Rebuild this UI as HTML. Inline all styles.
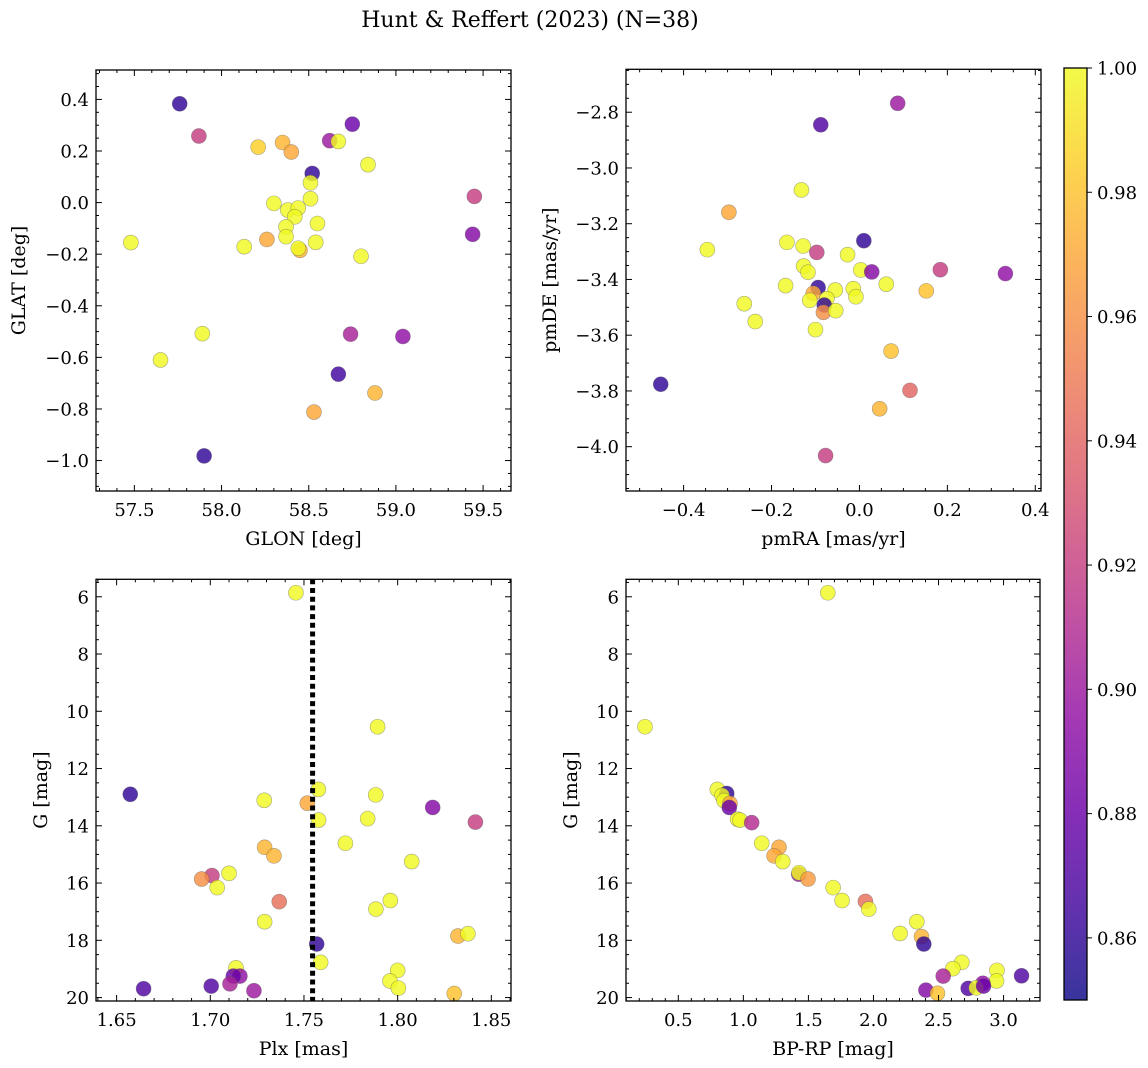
<!DOCTYPE html>
<html><head><meta charset="utf-8"><style>
html,body{margin:0;padding:0;background:#fff;}
svg{display:block;font-family:"DejaVu Serif","Liberation Serif",serif;}
</style></head><body>
<svg id="fig" width="1148" height="1068" viewBox="0 0 1148 1068" xmlns="http://www.w3.org/2000/svg">
<rect width="1148" height="1068" fill="#fff"/>
<text x="530" y="27" font-size="22" text-anchor="middle">Hunt &amp; Reffert (2023) (N=38)</text>
<g id="cb"></g>
</svg>
<script>
// Panel 1: GLON vs GLAT
const glon=[57.76,57.87,58.75,58.21,58.35,58.40,58.62,58.67,58.52,58.51,58.84,58.51,58.30,58.38,58.44,58.42,58.37,58.37,58.55,58.54,57.48,58.13,58.26,58.45,58.44,58.80,59.45,59.44,57.89,57.65,58.74,59.04,58.67,58.88,58.53,57.90];
const glat=[0.383,0.258,0.304,0.215,0.233,0.196,0.240,0.237,0.113,0.077,0.147,0.015,-0.003,-0.029,-0.021,-0.055,-0.094,-0.132,-0.081,-0.154,-0.155,-0.171,-0.143,-0.185,-0.177,-0.208,0.024,-0.123,-0.508,-0.610,-0.510,-0.519,-0.665,-0.738,-0.812,-0.982];
const prob1=[0.86,0.92,0.88,0.985,0.975,0.97,0.90,1,0.86,1,1,1,1,1,1,1,1,1,1,1,1,1,0.97,0.975,1,1,0.92,0.89,1,1,0.905,0.895,0.865,0.975,0.97,0.86];
// Panel 2: pmRA vs pmDE
const pmra=[0.087,-0.088,-0.132,-0.297,-0.346,-0.165,-0.128,-0.097,-0.027,0.010,-0.127,-0.117,0.003,0.028,0.184,0.332,-0.168,-0.094,-0.105,-0.055,-0.014,0.061,0.152,-0.008,-0.074,-0.113,-0.262,-0.080,-0.082,-0.054,-0.237,-0.100,0.072,-0.452,0.115,0.046,-0.077];
const pmde=[-2.768,-2.845,-3.079,-3.159,-3.293,-3.267,-3.280,-3.303,-3.311,-3.261,-3.352,-3.374,-3.366,-3.373,-3.365,-3.379,-3.422,-3.429,-3.450,-3.438,-3.433,-3.417,-3.441,-3.462,-3.469,-3.475,-3.487,-3.492,-3.518,-3.512,-3.551,-3.580,-3.657,-3.776,-3.798,-3.864,-4.032];
const prob2=[0.90,0.87,1,0.97,1,1,1,0.92,1,0.86,1,1,1,0.89,0.92,0.895,1,0.86,0.97,1,1,1,0.98,1,1,1,1,0.86,0.96,1,1,1,0.98,0.86,0.94,0.975,0.92];
// Panel 3: Plx vs G
const plx=[1.7457,1.7893,1.6573,1.7288,1.7518,1.7577,1.7883,1.8187,1.7578,1.7840,1.8415,1.7721,1.7290,1.7340,1.8075,1.7100,1.7009,1.6954,1.7037,1.7368,1.7961,1.7884,1.7290,1.8322,1.8375,1.7568,1.7589,1.7137,1.7158,1.7123,1.7105,1.8000,1.7959,1.8004,1.6644,1.7005,1.7233,1.8302];
const gmag3=[5.86,10.54,12.90,13.11,13.21,12.73,12.92,13.36,13.80,13.75,13.87,14.61,14.75,15.05,15.25,15.66,15.74,15.86,16.16,16.65,16.61,16.91,17.35,17.85,17.77,18.13,18.77,18.96,19.25,19.25,19.52,19.05,19.42,19.67,19.69,19.60,19.76,19.86];
const prob3=[1,1,0.86,1,0.97,1,1,0.89,1,1,0.92,1,0.975,0.975,1,1,0.92,0.96,1,0.945,1,1,1,0.975,1,0.86,1,1,0.895,0.88,0.905,1,1,1,0.87,0.87,0.9,0.98];
const plxMean=[1.7546];
// Panel 4: BP-RP vs G
const bprp=[1.649,0.244,0.800,0.872,0.836,0.851,0.897,0.892,0.956,0.974,1.064,1.141,1.274,1.236,1.303,1.426,1.428,1.497,1.690,1.759,1.938,1.964,2.333,2.205,2.369,2.387,2.679,2.610,2.536,2.949,2.946,3.138,2.841,2.403,2.492,2.728,2.790,2.846];
const gmag4=[5.86,10.54,12.73,12.87,12.94,13.12,13.22,13.36,13.77,13.80,13.89,14.61,14.75,15.05,15.25,15.69,15.64,15.86,16.16,16.61,16.64,16.91,17.35,17.76,17.87,18.13,18.77,18.99,19.25,19.05,19.42,19.24,19.50,19.74,19.85,19.68,19.66,19.60];
const prob4=[1,1,1,0.86,1,1,0.97,0.88,1,1,0.91,1,0.97,0.97,1,0.9,1,0.965,1,1,0.945,1,1,1,0.975,0.86,1,1,0.905,1,1,0.87,0.895,0.89,0.98,0.87,1,0.88];
const cbTicks=[0.86,0.88,0.90,0.92,0.94,0.96,0.98,1.00];

const NS="http://www.w3.org/2000/svg";
const svg=document.getElementById('fig');
const stops=["#0d0887","#41049d","#6a00a8","#8f0da4","#b12a90","#cc4778","#e16462","#f2844b","#fca636","#fcce25","#f0f921"];
function hx(h){return [1,3,5].map(i=>parseInt(h.substr(i,2),16));}
function plasma(t){t=Math.max(0,Math.min(1,t));const f=t*10,i=Math.min(9,Math.floor(f)),r=f-i;const a=hx(stops[i]),b=hx(stops[i+1]);return 'rgb('+a.map((v,k)=>Math.round(v+(b[k]-v)*r)).join(',')+')';}
const VMIN=0.85,VMAX=1.0;
const TF=18,LF=19;
function el(tag,attrs,parent){const e=document.createElementNS(NS,tag);for(const k in attrs)e.setAttribute(k,attrs[k]);(parent||svg).appendChild(e);return e;}
function fmt(v,d){const s=Math.abs(v).toFixed(d);return (v<-1e-9?'\u2212':'')+s;}

function panel(cfg){
  const g=el('g',{});
  
  
  const {L,R,T,B,x0,x1,y0,y1}=cfg;
  const sx=v=>L+(v-x0)/(x1-x0)*(R-L);
  const sy=v=>T+(v-y0)/(y1-y0)*(B-T);
  const pts=el('g',{},g);
  
  
  for(let i=0;i<cfg.xs.length;i++){
    const c=el('circle',{cx:sx(cfg.xs[i]),cy:sy(cfg.ys[i]),r:7.5,fill:plasma((cfg.cs[i]-VMIN)/(VMAX-VMIN)),'fill-opacity':0.82,stroke:'#555','stroke-opacity':0.5,'stroke-width':0.6},pts);
    
    
  }
  if(cfg.vline){
    const ln=el('line',{x1:sx(cfg.vline[0]),x2:sx(cfg.vline[0]),y1:T,y2:B,stroke:'#000','stroke-width':5,'stroke-dasharray':'5 3.7'},g);
    
    
  }
  const tk=el('g',{stroke:'#000','stroke-width':1},g);
  
  
  const eps=1e-9;
  const n0=Math.ceil((Math.min(x0,x1))/cfg.xmin-eps),n1=Math.floor(Math.max(x0,x1)/cfg.xmin+eps);
  for(let n=n0;n<=n1;n++){const v=n*cfg.xmin,x=sx(v);const maj=Math.abs(v/cfg.xmaj-Math.round(v/cfg.xmaj))<1e-6;const len=maj?6:3;
    el('line',{x1:x,x2:x,y1:B,y2:B-len},tk);el('line',{x1:x,x2:x,y1:T,y2:T+len},tk);
    if(maj){const t=el('text',{x:x,y:B+25,'font-size':TF,'text-anchor':'middle',stroke:'none',fill:'#000'},g);t.textContent=fmt(v,cfg.xd);}}
  const m0=Math.ceil(Math.min(y0,y1)/cfg.ymin-eps),m1=Math.floor(Math.max(y0,y1)/cfg.ymin+eps);
  for(let n=m0;n<=m1;n++){const v=n*cfg.ymin,y=sy(v);const maj=Math.abs(v/cfg.ymaj-Math.round(v/cfg.ymaj))<1e-6;const len=maj?6:3;
    el('line',{x1:L,x2:L+len,y1:y,y2:y},tk);el('line',{x1:R,x2:R-len,y1:y,y2:y},tk);
    if(maj){const t=el('text',{x:L-7,y:y+6.5,'font-size':TF,'text-anchor':'end',stroke:'none',fill:'#000'},g);t.textContent=fmt(v,cfg.yd);}}
  const fr=el('rect',{x:L,y:T,width:R-L,height:B-T,fill:'none',stroke:'#000','stroke-width':1.3},g);
  
  
  const xl=el('text',{x:(L+R)/2,y:B+54,'font-size':LF,'text-anchor':'middle'},g);xl.textContent=cfg.xlabel;
  
  
  const yl=el('text',{x:0,y:0,'font-size':LF,'text-anchor':'middle',transform:`translate(${cfg.ylx},${(T+B)/2}) rotate(-90)`},g);yl.textContent=cfg.ylabel;
  
  
}
panel({name:'glon-glat-panel',L:96,R:511,T:70,B:491,x0:57.28,x1:59.66,y0:0.514,y1:-1.118,xs:glon,ys:glat,cs:prob1,xmaj:0.5,xmin:0.1,ymaj:0.2,ymin:0.05,xd:1,yd:1,xlabel:'GLON [deg]',ylabel:'GLAT [deg]',ylx:25});
panel({name:'proper-motion-panel',L:626,R:1041,T:69.3,B:491,x0:-0.531,x1:0.413,y0:-2.646,y1:-4.159,xs:pmra,ys:pmde,cs:prob2,xmaj:0.2,xmin:0.05,ymaj:0.2,ymin:0.05,xd:1,yd:1,xlabel:'pmRA [mas/yr]',ylabel:'pmDE [mas/yr]',ylx:556});
panel({name:'parallax-magnitude-panel',L:96,R:511,T:579.3,B:1001,x0:1.639,x1:1.8605,y0:5.39,y1:20.12,xs:plx,ys:gmag3,cs:prob3,xmaj:0.05,xmin:0.01,ymaj:2,ymin:0.5,xd:2,yd:0,xlabel:'Plx [mas]',ylabel:'G [mag]',ylx:47,vline:plxMean});
panel({name:'color-magnitude-panel',L:626,R:1040,T:579.3,B:1001,x0:0.098,x1:3.28,y0:5.39,y1:20.12,xs:bprp,ys:gmag4,cs:prob4,xmaj:0.5,xmin:0.1,ymaj:2,ymin:0.5,xd:1,yd:0,xlabel:'BP-RP [mag]',ylabel:'G [mag]',ylx:577});

const cb=document.getElementById('cb');
const CT=68,CB=1000,CL=1064,CR=1087;
const defs=el('defs',{},cb);
const lg=el('linearGradient',{id:'pl',x1:0,y1:1,x2:0,y2:0},defs);
for(let i=0;i<=20;i++){el('stop',{offset:i/20,'stop-color':plasma(i/20)},lg);}
const bar=el('rect',{x:CL,y:CT,width:CR-CL,height:CB-CT,fill:'url(#pl)','fill-opacity':0.82,stroke:'#000','stroke-width':1.3},cb);


const cy=v=>CB-(v-VMIN)/(VMAX-VMIN)*(CB-CT);
cbTicks.forEach(v=>{const y=cy(v);el('line',{x1:CR,x2:CR+5,y1:y,y2:y,stroke:'#000','stroke-width':1},cb);
  const t=el('text',{x:CR+10,y:y+6.5,'font-size':TF},cb);t.textContent=v.toFixed(2);
  
  });
</script>
</body></html>
